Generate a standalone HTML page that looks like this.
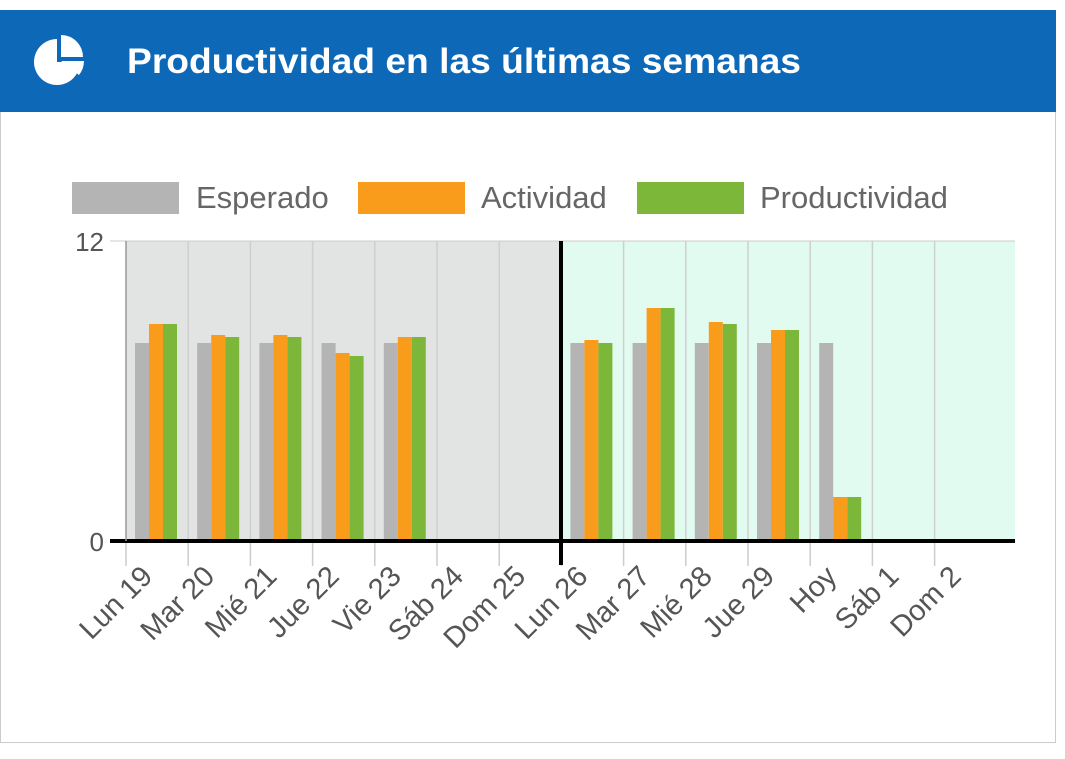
<!DOCTYPE html>
<html><head><meta charset="utf-8"><style>
body{margin:0;background:#fff;width:1065px;height:754px;overflow:hidden;font-family:"Liberation Sans",sans-serif}
</style></head><body>
<svg width="1065" height="754" xmlns="http://www.w3.org/2000/svg" font-family="Liberation Sans, sans-serif">
<rect x="0.5" y="10.5" width="1055" height="732" fill="#fff" stroke="#ccc"/>
<rect x="0" y="10" width="1056" height="102" fill="#0d68b8"/>
<g fill="#fff">
<path d="M57 39 A23 23 0 1 0 80 62 L57 62 Z"/>
<path d="M61 35 A22 22 0 0 1 83 57 L61 57 Z"/>
<path d="M61 61 L84 61 A23 23 0 0 1 79 75 Z"/>
</g>
<text x="127" y="73" fill="#fff" font-size="35" font-weight="bold" textLength="674" lengthAdjust="spacingAndGlyphs">Productividad en las últimas semanas</text>
<g font-size="31" fill="#666">
<rect x="72" y="182" width="107" height="32" fill="#b4b4b4"/><text x="196" y="208">Esperado</text>
<rect x="358" y="182" width="107" height="32" fill="#f99c1c"/><text x="481" y="208">Actividad</text>
<rect x="637" y="182" width="107" height="32" fill="#7db73a"/><text x="760" y="208">Productividad</text>
</g>
<rect x="126" y="241" width="435" height="300" fill="#e1e4e3"/>
<rect x="561" y="241" width="454" height="300" fill="#e2fbf1"/>
<line x1="110" y1="241" x2="1015" y2="241" stroke="#ccc"/>
<g stroke="#cfcfcf" stroke-width="1.5" id="g"></g>
<g id="b"></g>
<line x1="110" y1="541" x2="1015" y2="541" stroke="#000" stroke-width="4"/>
<line x1="561" y1="241" x2="561" y2="565" stroke="#000" stroke-width="4"/>
<line x1="126" y1="241" x2="126" y2="541" stroke="#999" stroke-width="1.5"/>
<g font-size="26" fill="#555" text-anchor="end">
<text x="104" y="251">12</text><text x="104" y="551">0</text>
</g>
<g id="l" font-size="29" fill="#555" text-anchor="end"></g>
<script>
var ns="http://www.w3.org/2000/svg";
function el(t,a,p){var e=document.createElementNS(ns,t);for(var k in a)e.setAttribute(k,a[k]);document.getElementById(p).appendChild(e);return e;}
var names=["Lun 19","Mar 20","Mié 21","Jue 22","Vie 23","Sáb 24","Dom 25","Lun 26","Mar 27","Mié 28","Jue 29","Hoy","Sáb 1","Dom 2"];
var d=[[343,324,324],[343,335,337],[343,335,337],[343,353,356],[343,337,337],[539,539,539],[539,539,539],[343,340,343],[343,308,308],[343,322,324],[343,330,330],[343,497,497],[539,539,539],[539,539,539]];
var c=["#b4b4b4","#f99c1c","#7db73a"];
for(var i=0;i<14;i++){var x=126+i*62.2;
 if(i>0&&i!=7)el("line",{x1:x,y1:241,x2:x,y2:541},"g");
 el("line",{x1:x,y1:541,x2:x,y2:566,stroke:"#ccc","stroke-width":1.5},"g");
 for(var j=0;j<3;j++){el("rect",{x:x+9+j*14,y:d[i][j],width:14,height:541-d[i][j],fill:c[j]},"b");}
 var t=el("text",{transform:"translate("+(x+28)+",578) rotate(-45)"},"l");t.textContent=names[i];}
</script>
</svg>
</body></html>
